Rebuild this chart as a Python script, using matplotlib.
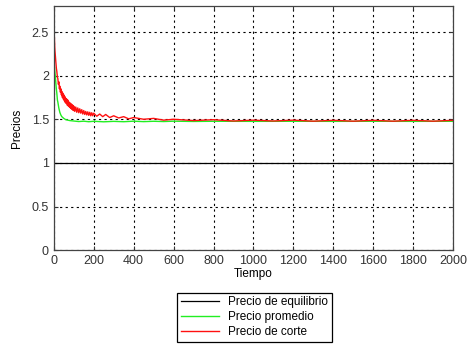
import matplotlib
matplotlib.use('Agg')
import matplotlib.pyplot as plt

plt.rcParams['font.family'] = ['Liberation Sans', 'DejaVu Sans']

# equilibrium price (constant)
t_eq = [0, 2000]
p_eq = [1.0, 1.0]

# average price
t_prom = [0, 1, 3, 5, 8, 10, 13, 15, 18, 20, 25, 30, 35, 40, 50, 60, 70, 80, 100,
          125, 150, 175, 200, 250, 300, 350, 400, 450, 500, 550, 600, 700, 800,
          1000, 1200, 1400, 1600, 1800, 2000]
p_prom = [1.00, 1.95, 2.10, 2.05, 1.98, 1.92, 1.84, 1.80, 1.72, 1.70, 1.63, 1.58,
          1.55, 1.53, 1.51, 1.495, 1.49, 1.485, 1.48, 1.474, 1.478, 1.472, 1.477,
          1.471, 1.476, 1.472, 1.478, 1.473, 1.477, 1.474, 1.478, 1.475, 1.477,
          1.476, 1.477, 1.476, 1.477, 1.476, 1.477]

# cut-off price
t_corte = [0, 1, 3, 5, 8, 10, 13, 15, 18, 20, 23, 25, 28, 30, 33, 35, 38, 40, 43,
           45, 48, 50, 53, 55, 58, 60, 63, 65, 68, 70, 73, 75, 78, 80, 83, 85, 88,
           90, 93, 95, 98, 100, 105, 110, 115, 120, 125, 130, 135, 140, 145, 150,
           155, 160, 165, 170, 175, 180, 185, 190, 195, 200, 215, 230, 245, 260,
           280, 300, 325, 350, 375, 400, 450, 500, 550, 600, 700, 800, 900, 1000,
           1100, 1200, 1300, 1400, 1500, 1600, 1700, 1800, 1900, 2000]
p_corte = [1.00, 2.55, 2.42, 2.30, 2.22, 2.16, 2.08, 2.05, 1.98, 1.97, 1.90, 1.93,
           1.85, 1.88, 1.81, 1.85, 1.78, 1.82, 1.75, 1.80, 1.73, 1.78, 1.71, 1.76,
           1.69, 1.74, 1.68, 1.73, 1.66, 1.72, 1.65, 1.70, 1.64, 1.69, 1.63, 1.68,
           1.62, 1.67, 1.61, 1.66, 1.60, 1.65, 1.59, 1.64, 1.58, 1.63, 1.575, 1.62,
           1.57, 1.61, 1.56, 1.60, 1.555, 1.59, 1.55, 1.585, 1.545, 1.58, 1.54,
           1.575, 1.54, 1.57, 1.535, 1.56, 1.53, 1.555, 1.52, 1.54, 1.515, 1.53,
           1.505, 1.52, 1.50, 1.51, 1.49, 1.50, 1.485, 1.495, 1.48, 1.49, 1.48,
           1.49, 1.478, 1.488, 1.478, 1.488, 1.478, 1.488, 1.478, 1.488]

fig = plt.figure(figsize=(4.68, 3.45), dpi=100)
ax = fig.add_axes([0.115, 0.275, 0.853, 0.708])

ax.plot(t_eq, p_eq, color='black', lw=0.9, label='Precio de equilibrio')
ax.plot(t_prom, p_prom, color='#22ee22', lw=1.0, label='Precio promedio')
ax.plot(t_corte, p_corte, color='#ff1010', lw=1.0, label='Precio de corte')

ax.set_xlim(0, 2000)
ax.set_ylim(0, 2.8)
ax.set_xticks(range(0, 2001, 200))
ax.set_yticks([0, 0.5, 1, 1.5, 2, 2.5])
ax.set_yticklabels(['0', '0.5', '1', '1.5', '2', '2.5'])
ax.grid(True, color='black', linestyle=(0, (2, 3)), lw=0.8)
ax.tick_params(direction='in', top=True, right=True, labelsize=9, length=3,
               colors='#333333')
for s in ax.spines.values():
    s.set_color('#444444')
    s.set_linewidth(0.9)

ax.set_xlabel('Tiempo', fontsize=8.5, labelpad=1)
ax.set_ylabel('Precios', fontsize=8.5, labelpad=6)

leg = fig.legend(loc='upper center', bbox_to_anchor=(0.544, 0.168), fontsize=8.5,
                 fancybox=False, edgecolor='black', handlelength=3.2,
                 borderpad=0.3, labelspacing=0.25, framealpha=1)
leg.get_frame().set_linewidth(0.9)

fig.savefig('out.png', dpi=100)
